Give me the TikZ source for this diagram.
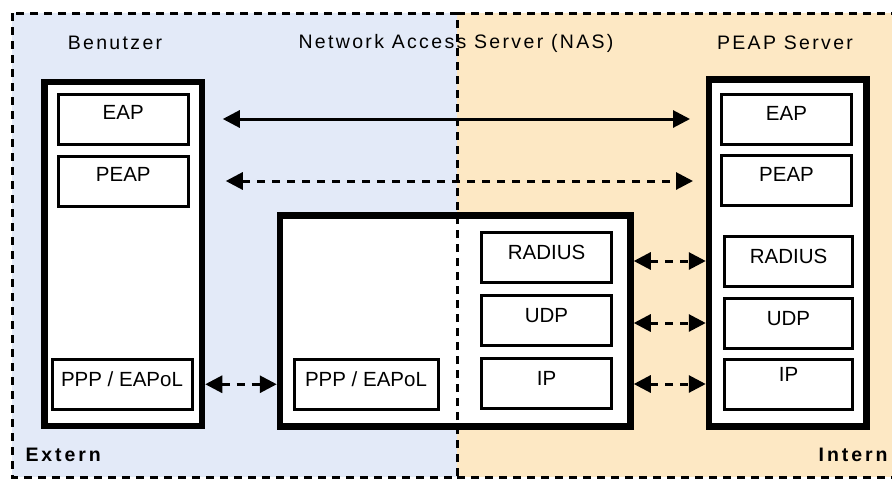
\documentclass[tikz,border=0pt]{standalone}
\usepackage{fontspec}
\setmainfont{Liberation Sans}
\usetikzlibrary{arrows.meta,positioning}

\definecolor{externblue}{RGB}{227,234,248}
\definecolor{internorange}{RGB}{253,232,196}

\begin{document}
\begin{tikzpicture}[x=1pt,y=-1pt,
    stackframe/.style={draw,fill=white,line width=6.5pt,minimum width=157.5pt},
    protobox/.style={draw,fill=white,line width=3pt,minimum width=130pt,minimum height=50pt,
      font=\fontsize{20.5}{24}\selectfont,text height=15pt,text depth=10pt},
    heading/.style={font=\fontsize{19.5}{23}\selectfont\addfontfeature{LetterSpace=12}},
    zone/.style={font=\fontsize{19.5}{23}\bfseries\addfontfeature{LetterSpace=15}},
    flow/.style={line width=3pt,{Triangle[length=17pt,width=17pt]}-{Triangle[length=17pt,width=17pt]}},
    dashline/.style={dash pattern=on 8pt off 7pt},
    border/.style={line width=3pt,dash pattern=on 8pt off 6pt}]

  \useasboundingbox (0,0) rectangle (892,480);

  % the two zones
  \fill[externblue] (12,13) rectangle (457,477);
  \fill[internorange] (457,13) rectangle (900,477);

  % protocol stacks
  \node[stackframe,minimum height=344pt] (user) at (123.25,254) {};
  \node[stackframe,minimum width=350.5pt,minimum height=211pt] (nas) at (455.25,321) {};
  \node[stackframe,minimum height=347pt] (server) at (787.75,253) {};

  \node[protobox,text depth=14pt] (user eap) at (123.25,119) {EAP};
  \node[protobox,text depth=14pt] (user peap) [below=9pt of user eap] {PEAP};
  \node[protobox,minimum width=140pt] (user ppp) at (122,384.25) {PPP / EAPoL};

  \node[protobox,minimum width=144pt] (nas ppp) at (366,384.25) {PPP / EAPoL};
  \node[protobox] (nas radius) at (546.5,257) {RADIUS};
  \node[protobox] (nas udp) [below=10pt of nas radius] {UDP};
  \node[protobox] (nas ip) [below=10pt of nas udp] {IP};

  \node[protobox,text depth=14pt] (server eap) at (786.5,119.5) {EAP};
  \node[protobox,text depth=14pt] (server peap) [below=8pt of server eap] {PEAP};
  \node[protobox,minimum width=128pt] (server radius) at (788.5,261) {RADIUS};
  \node[protobox,minimum width=128pt] (server udp) [below=9pt of server radius] {UDP};
  \node[protobox,minimum width=128pt,text depth=20pt] (server ip) [below=8pt of server udp] {IP};

  % labels
  \node[heading] (user label) at (115,43) {Benutzer};
  \node[heading] (nas label) at (456,43) {Network Access Server (NAS)};
  \node[heading] (server label) at (785,43) {PEAP Server};
  \node[zone,anchor=west] (extern label) at (22,455) {Extern};
  \node[zone,anchor=east] (intern label) at (891,455) {Intern};

  % connections
  \draw[flow,shorten <=33pt,shorten >=30pt] (user eap.east) -- (user eap.east -| server eap.west);
  \draw[flow,dashline,shorten <=36pt,shorten >=27pt] (user peap.east) -- (user peap.east -| server peap.west);
  \draw[flow,dashline] (user ppp.east -| user.east) -- (user ppp.east -| nas.west);
  \draw[flow,dashline] (server radius.west -| nas.east) -- (server radius.west -| server.west);
  \draw[flow,dashline] (server udp.west -| nas.east) -- (server udp.west -| server.west);
  \draw[flow,dashline] (server ip.west -| nas.east) -- (server ip.west -| server.west);

  % zone borders
  \draw[border] (12,13) rectangle (457,477);
  \draw[border] (457,13) -- (900,13) (457,477) -- (900,477);
\end{tikzpicture}
\end{document}
